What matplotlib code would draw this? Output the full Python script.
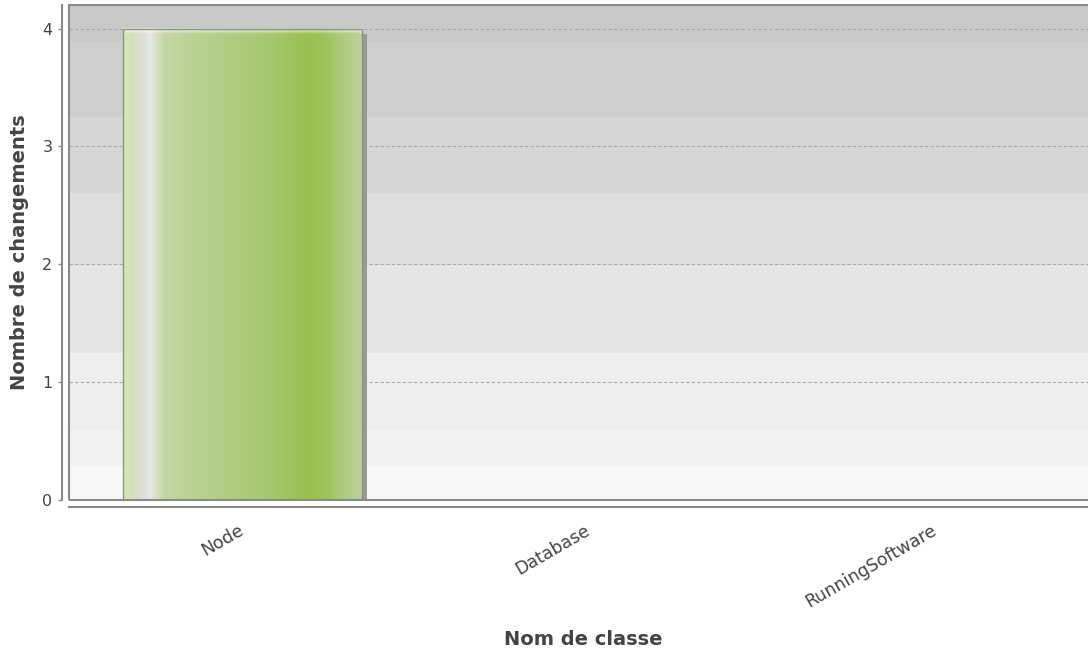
import matplotlib
matplotlib.use('Agg')
import matplotlib.pyplot as plt
import matplotlib.transforms as mtransforms
from matplotlib.colors import LinearSegmentedColormap
from matplotlib.patches import Rectangle
import numpy as np

# chart data
categories = ['Node', 'Database', 'RunningSoftware']
changes = [4, 0, 0]
y_ticks = [0, 1, 2, 3, 4]

x_label = 'Nom de classe'
y_label = 'Nombre de changements'

# background stripes of the plot area (axes fraction, bottom -> top)
band_edges = [0.0, 0.067, 0.141, 0.297, 0.475, 0.620, 0.774, 0.927, 1.0]
band_colors = ['#f8f8f8', '#f3f3f3', '#eeeeee', '#e5e5e5',
               '#dedede', '#d6d6d6', '#cecece', '#c9c9c9']

# horizontal gradient across a bar
bar_stops = [(0.0, '#d6eaae'), (0.03, '#d4e0bc'), (0.07, '#dcded2'),
             (0.11, '#e8e8e6'), (0.17, '#c4d6a4'), (0.25, '#bcd498'),
             (0.45, '#b0cc80'), (0.6, '#a8c870'), (0.77, '#9bc050'),
             (0.84, '#9ec258'), (0.93, '#b0cc84'), (1.0, '#bcd29e')]

text_col = '#444444'
line_col = '#8a8a8a'
bar_width = 0.69

fig = plt.figure(figsize=(10.88, 6.5), dpi=100)
ax = fig.add_axes([69 / 1088, 150 / 650, 1040 / 1088, 495 / 650])
ax.set_facecolor('white')

for lo, hi, c in zip(band_edges[:-1], band_edges[1:], band_colors):
    ax.add_patch(Rectangle((0, lo), 1, hi - lo, transform=ax.transAxes,
                           facecolor=c, edgecolor='none', zorder=0))

x = np.arange(len(categories))

# gridlines
for t in y_ticks[1:]:
    ax.axhline(t, color='#a8a8a8', lw=0.8, ls=(0, (3, 2)), zorder=1)

# shadow
shadow = mtransforms.offset_copy(ax.transData, fig=fig, x=5, y=-5, units='dots')
ax.bar(x, changes, bar_width, color='#999999', transform=shadow, zorder=2,
       edgecolor='none')

# gradient bars
cmap = LinearSegmentedColormap.from_list('bar', bar_stops)
grad = cmap(np.linspace(0, 1, 240))[:, :3]
img = np.tile(grad, (200, 1, 1))
img[:2] = img[:2] * 0.6 + 0.4  # light top edge
for xi, v in zip(x, changes):
    if v <= 0:
        continue
    ax.imshow(img, extent=(xi - bar_width / 2, xi + bar_width / 2, 0, v),
              aspect='auto', zorder=3, interpolation='bilinear')
    ax.add_patch(Rectangle((xi - bar_width / 2, 0), bar_width, v,
                           facecolor='none', edgecolor='#909090', lw=1.0,
                           zorder=4))

ax.set_xlim(-0.5, 2.5)
ax.set_ylim(0, 4.2)

# axes styling
for side in ['top', 'right']:
    ax.spines[side].set_visible(False)
for side in ['left', 'bottom']:
    ax.spines[side].set_position(('outward', 5))
    ax.spines[side].set_color(line_col)
    ax.spines[side].set_linewidth(1.5)
ax.add_patch(Rectangle((0, 0), 1, 1, transform=ax.transAxes, fill=False,
                       edgecolor=line_col, lw=1.5, zorder=5, clip_on=False))

ax.set_yticks(y_ticks)
ax.set_yticklabels([str(t) for t in y_ticks])
ax.tick_params(axis='y', length=3, width=1, color=line_col, pad=4,
               labelsize=11.5, labelcolor=text_col)

ax.set_xticks(x)
ax.set_xticklabels(categories, rotation=30, ha='right', va='center',
                   rotation_mode='anchor')
ax.tick_params(axis='x', length=0, pad=16, labelsize=12.5, labelcolor=text_col)

ax.set_xlabel(x_label, fontsize=14, fontweight='bold', color=text_col)
ax.set_ylabel(y_label, fontsize=14, fontweight='bold', color=text_col)
ax.xaxis.set_label_coords(0.494, -0.262)
ax.yaxis.set_label_coords(-0.0385, 0.5)

fig.savefig('out.png', dpi=100)
